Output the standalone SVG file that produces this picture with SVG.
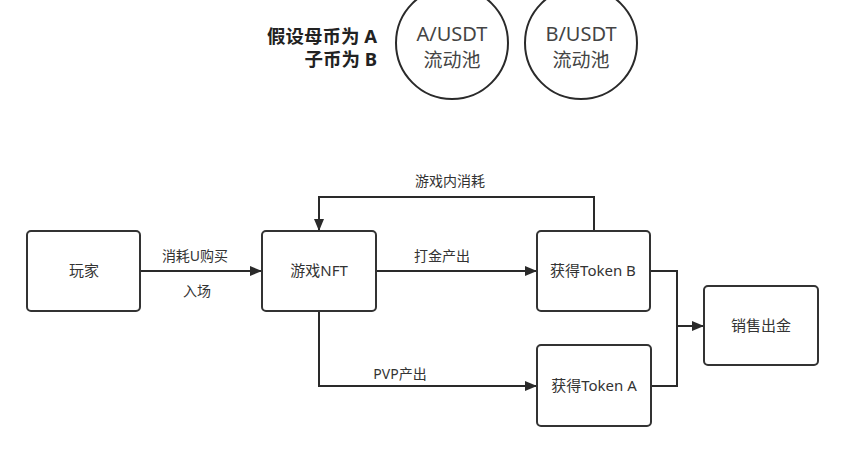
<svg xmlns="http://www.w3.org/2000/svg" width="865" height="456" viewBox="0 0 865 456">
<defs>
<style>
.box{fill:#fff;stroke:#333;stroke-width:2}
.pool{fill:#fff;stroke:#2a2a2a;stroke-width:2}
.t{font-family:"Noto Sans","Noto Sans CJK SC",sans-serif;fill:#333;font-size:15px;text-anchor:middle}
.pt{font-family:"Noto Sans","Noto Sans CJK SC",sans-serif;fill:#444;font-size:20px;text-anchor:middle}
.lbl{font-family:"Noto Sans","Noto Sans CJK SC",sans-serif;fill:#333;font-size:14px;text-anchor:middle}
.note{font-family:"Noto Sans","Noto Sans CJK SC",sans-serif;fill:#222;font-size:18.5px;font-weight:bold;text-anchor:end}
.ln{fill:none;stroke:#2a2a2a;stroke-width:2}
</style>
<marker id="arr" viewBox="0 0 12 10" refX="12" refY="5" markerWidth="12" markerHeight="10" markerUnits="userSpaceOnUse" orient="auto">
<path d="M0,0 L12,5 L0,10 z" fill="#2a2a2a"/>
</marker>
</defs>
<rect width="865" height="456" fill="#fff"/>
<g id="note">
<text class="note" x="377" y="43">假设母币为 A</text>
<text class="note" x="377" y="66">子币为 B</text>
</g>
<g id="poolA">
<circle class="pool" cx="452" cy="43" r="56"/>
<text class="pt" x="452" y="41">A/USDT</text>
<text class="pt" x="452" y="67" style="font-size:19px">流动池</text>
</g>
<g id="poolB">
<circle class="pool" cx="581" cy="43" r="56"/>
<text class="pt" x="581" y="41">B/USDT</text>
<text class="pt" x="581" y="67" style="font-size:19px">流动池</text>
</g>
<g id="connectors">
<path class="ln" d="M140,271 L262,271" marker-end="url(#arr)"/>
<path class="ln" d="M376,271 L537,271" marker-end="url(#arr)"/>
<path class="ln" d="M594,231 L594,197 L319,197 L319,231" marker-end="url(#arr)"/>
<path class="ln" d="M319,311 L319,386 L537,386" marker-end="url(#arr)"/>
<path class="ln" d="M650,271 L677,271 L677,386 L651,386"/>
<path class="ln" d="M677,326 L704,326" marker-end="url(#arr)"/>
<text class="lbl" x="195" y="261">消耗U购买</text>
<text class="lbl" x="197" y="296">入场</text>
<text class="lbl" x="450" y="186">游戏内消耗</text>
<text class="lbl" x="442" y="261">打金产出</text>
<text class="lbl" x="400" y="379">PVP产出</text>
</g>
<g id="player">
<rect class="box" x="27" y="231" width="113" height="80" rx="4"/>
<text class="t" x="84" y="276">玩家</text>
</g>
<g id="nft">
<rect class="box" x="262" y="231" width="114" height="80" rx="4"/>
<text class="t" x="319" y="276">游戏NFT</text>
</g>
<g id="tokenB">
<rect class="box" x="537" y="231" width="113" height="80" rx="4"/>
<text class="t" x="593" y="276">获得Token B</text>
</g>
<g id="tokenA">
<rect class="box" x="537" y="345" width="114" height="81" rx="4"/>
<text class="t" x="594" y="391">获得Token A</text>
</g>
<g id="sell">
<rect class="box" x="704" y="286" width="114" height="79" rx="4"/>
<text class="t" x="761" y="331">销售出金</text>
</g>
</svg>
